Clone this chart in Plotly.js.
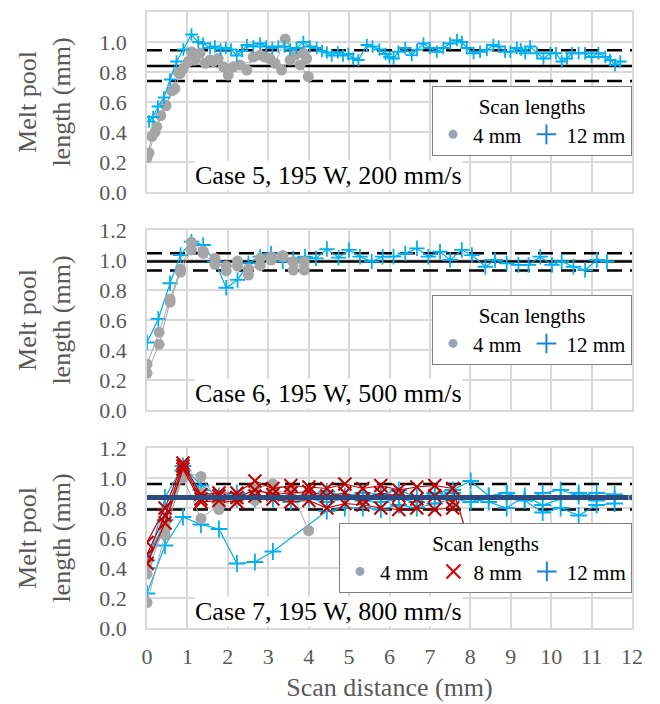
<!DOCTYPE html>
<html><head><meta charset="utf-8">
<script src="https://cdn.plot.ly/plotly-3.0.1.min.js"></script>
</head><body style="margin:0;padding:0"><div id="chart" style="width:660px;height:704px"></div>
<script>
// ---------- Case 5 (195 W, 200 mm/s) ----------
const c5_12_x = [0.05,0.15,0.27,0.42,0.57,0.73,0.9,1.1,1.27,1.39,1.56,1.68,1.82,1.95,2.08,2.22,2.35,2.47,2.63,2.8,2.95,3.1,3.25,3.4,3.54,3.7,3.87,4.03,4.2,4.33,4.45,4.57,4.72,4.85,4.98,5.1,5.23,5.44,5.58,5.75,5.9,6.0,6.1,6.22,6.39,6.55,6.68,6.84,7.0,7.17,7.33,7.5,7.67,7.79,7.91,8.08,8.24,8.41,8.57,8.7,8.86,8.99,9.15,9.25,9.36,9.48,9.65,9.81,9.98,10.12,10.26,10.39,10.51,10.68,10.84,11.0,11.17,11.34,11.46,11.58,11.71];
const c5_12_y = [0.47,0.50,0.57,0.63,0.75,0.87,0.95,1.05,1.0,0.99,0.96,0.97,0.95,0.96,0.95,0.91,0.94,0.98,0.97,0.99,0.97,0.96,0.97,0.97,0.95,0.96,1.0,0.97,0.96,0.94,0.93,0.91,0.93,0.91,0.92,0.89,0.88,0.98,0.97,0.95,0.92,0.90,0.89,0.935,0.96,0.913,0.947,0.99,0.96,0.935,0.96,0.99,1.013,1.0,0.96,0.925,0.935,0.947,0.98,0.97,0.935,0.935,0.96,0.95,0.925,0.97,0.925,0.89,0.925,0.925,0.87,0.89,0.925,0.925,0.925,0.90,0.925,0.90,0.88,0.847,0.87];
const c5_4a_x = [0,0.12,0.24,0.34,0.47,0.61,0.78,0.9,1.02,1.15,1.31,1.44,1.56,1.76,2.01,2.14,2.47,2.63,2.8,3.04,3.33,3.54,3.79,3.99];
const c5_4a_y = [0.23,0.37,0.435,0.51,0.575,0.675,0.795,0.825,0.87,0.88,0.925,0.858,0.88,0.89,0.78,0.835,0.813,0.90,0.913,0.89,0.813,0.88,0.847,0.77];
const c5_4b_x = [0.05,0.2,0.45,0.65,0.69,0.82,1.1,1.19,1.64,1.89,2.3,2.92,3.17,3.42,3.66,3.87,3.95];
const c5_4b_y = [0.26,0.40,0.58,0.68,0.69,0.79,0.935,0.88,0.87,0.835,0.847,0.90,0.858,1.02,0.913,0.925,0.89];
const c5_ref = [0.84, 0.945, 0.74];   // mean, upper, lower

// ---------- Case 6 (195 W, 500 mm/s) ----------
const c6_12_x = [0,0.28,0.57,0.83,1.1,1.39,1.68,1.96,2.24,2.51,2.8,3.07,3.36,3.62,3.91,4.18,4.45,4.74,5.0,5.27,5.56,5.83,6.1,6.39,6.68,6.96,7.25,7.5,7.79,8.04,8.37,8.61,8.9,9.19,9.44,9.73,10.02,10.26,10.55,10.84,11.13,11.38];
const c6_12_y = [0.45,0.607,0.845,1.033,1.122,1.10,0.99,0.815,0.867,0.978,1.022,1.044,0.99,1.011,1.022,1.011,1.073,1.016,1.067,1.022,0.99,1.022,1.022,1.044,1.078,1.022,1.055,1.0,1.067,1.033,0.955,1.0,0.978,0.967,0.967,1.022,0.967,0.99,0.955,0.933,1.0,0.99];
const c6_4_x = [0,0.3,0.57,0.83,1.1,1.39,1.68,1.96,2.24,2.51,2.8,3.07,3.36,3.62,3.89];
const c6_4a_y = [0.305,0.518,0.74,0.94,1.118,1.06,1.011,0.927,0.993,0.90,1.011,1.022,1.022,0.933,0.99];
const c6_4b_y = [0.245,0.438,0.72,0.92,1.067,1.045,0.971,0.96,0.96,0.94,0.962,1.0,1.03,0.99,0.933];
const c6_ref = [0.99, 1.045, 0.93];

// ---------- Case 7 (195 W, 800 mm/s) ----------
const c7_4_x = [0,0.445,0.89,1.335,1.78,2.225,2.67,3.115,3.56,4.0];
const c7_4a_y = [0.17,0.62,1.04,1.01,0.84,0.85,0.93,0.96,0.92,0.65];
const c7_4b_y = [0.36,0.69,1.03,0.90,0.79,0.88,0.85,0.89,0.86,0.88];
const c7_4c_y = [0.43,0.66,1.00,0.73,0.82,0.86,0.90,0.92,0.90,0.89];
const c7_8_x = [0,0.445,0.89,1.335,1.78,2.225,2.67,3.115,3.56,4.005,4.45,4.895,5.34,5.785,6.23,6.675,7.12,7.565,8.0];
const c7_8a_y = [0.57,0.80,1.10,0.89,0.90,0.90,0.98,0.93,0.95,0.94,0.93,0.96,0.93,0.95,0.92,0.94,0.95,0.93,0.55];
const c7_8b_y = [0.49,0.75,1.08,0.86,0.88,0.87,0.92,0.89,0.90,0.91,0.88,0.90,0.86,0.90,0.88,0.86,0.88,0.84];
const c7_8c_y = [0.43,0.70,1.06,0.84,0.85,0.84,0.88,0.86,0.84,0.85,0.80,0.83,0.82,0.80,0.79,0.80,0.79,0.80];
const c7_12a_x = [0,0.445,0.89,1.335,1.78,2.225,2.67,3.115,4.45,4.895,5.34,5.785,6.23,6.675,7.12,7.565,8.01,8.455,8.9,9.345,9.79,10.235,10.68,11.125,11.57];
const c7_12a_y = [0.23,0.55,0.74,0.69,0.66,0.43,0.44,0.51,0.78,0.80,0.80,0.79,0.82,0.80,0.83,0.86,0.84,0.88,0.90,0.85,0.77,0.80,0.75,0.82,0.83];
const c7_12_x = [0,0.445,0.89,1.335,1.78,2.225,2.67,3.115,3.56,4.005,4.45,4.895,5.34,5.785,6.23,6.675,7.12,7.565,8.01,8.455,8.9,9.345,9.79,10.235,10.68,11.125,11.57];
const c7_12b_y = [0.40,0.87,1.08,0.95,0.88,0.90,0.86,0.88,0.87,0.89,0.91,0.88,0.90,0.89,0.92,0.87,0.90,0.92,0.98,0.88,0.90,0.86,0.90,0.92,0.88,0.90,0.89];
const c7_12c_y = [0.45,0.72,1.05,0.92,0.86,0.86,0.88,0.86,0.84,0.86,0.84,0.86,0.85,0.84,0.86,0.84,0.88,0.90,0.86,0.84,0.80,0.88,0.82,0.86,0.90,0.85,0.86];
const c7_ref = [0.87, 0.96, 0.79];

const caseLabels = ['Case 5, 195 W, 200 mm/s','Case 6, 195 W, 500 mm/s','Case 7, 195 W, 800 mm/s'];
const legendLabels = ['4 mm','8 mm','12 mm'];
const xTicks = [0,1,2,3,4,5,6,7,8,9,10,11,12];
const xRange = [0, 12];

const GRAY='#a6a6a6', BLUE='#00b0f0', RED='#c00000';
const FONT='Liberation Serif';

function grayTr(x,y,xa,ya){return {x:x,y:y,xaxis:xa,yaxis:ya,mode:'lines+markers',showlegend:false,hoverinfo:'skip',
  line:{color:GRAY,width:1},marker:{symbol:'circle',size:11,color:GRAY}};}
function blueTr(x,y,xa,ya,sz){return {x:x,y:y,xaxis:xa,yaxis:ya,mode:'lines+markers',showlegend:false,hoverinfo:'skip',
  line:{color:BLUE,width:1.2},marker:{symbol:'cross-thin-open',size:sz,color:BLUE,line:{color:BLUE,width:1.8}}};}
function redTr(x,y,xa,ya){return {x:x,y:y,xaxis:xa,yaxis:ya,mode:'lines+markers',showlegend:false,hoverinfo:'skip',
  line:{color:RED,width:1.2},marker:{symbol:'x-thin-open',size:13,color:RED,line:{color:RED,width:2}}};}
function refTr(ref,xa,ya,meanColor,meanWidth){
  const out=[];
  out.push({x:xRange,y:[ref[1],ref[1]],xaxis:xa,yaxis:ya,mode:'lines',showlegend:false,hoverinfo:'skip',line:{color:'#000',width:2.6,dash:'15px,8px'}});
  out.push({x:xRange,y:[ref[2],ref[2]],xaxis:xa,yaxis:ya,mode:'lines',showlegend:false,hoverinfo:'skip',line:{color:'#000',width:2.6,dash:'15px,8px'}});
  out.push({x:xRange,y:[ref[0],ref[0]],xaxis:xa,yaxis:ya,mode:'lines',showlegend:false,hoverinfo:'skip',line:{color:meanColor,width:meanWidth}});
  return out;
}
function legTr(name,sym,color,size,lg,lw){return {x:[null],y:[null],xaxis:'x',yaxis:'y',mode:'markers',name:name,legend:lg,showlegend:true,
  marker:{symbol:sym,size:size,color:color,line:{color:color,width:lw}}};}

const traces = [];
traces.push(...refTr(c5_ref,'x','y','#000',2.6));
traces.push(grayTr(c5_4a_x,c5_4a_y,'x','y'));
traces.push(grayTr(c5_4b_x,c5_4b_y,'x','y'));
traces.push(blueTr(c5_12_x,c5_12_y,'x','y',9));
traces.push(...refTr(c6_ref,'x2','y2','#000',2.6));
traces.push(blueTr(c6_12_x,c6_12_y,'x2','y2',11));
traces.push(grayTr(c6_4_x,c6_4a_y,'x2','y2'));
traces.push(grayTr(c6_4_x,c6_4b_y,'x2','y2'));
traces.push(...refTr(c7_ref,'x3','y3','#000',2));
traces.push(blueTr(c7_12a_x,c7_12a_y,'x3','y3',12));
traces.push(blueTr(c7_12_x,c7_12b_y,'x3','y3',12));
traces.push(blueTr(c7_12_x,c7_12c_y,'x3','y3',12));
traces.push(grayTr(c7_4_x,c7_4a_y,'x3','y3'));
traces.push(grayTr(c7_4_x,c7_4b_y,'x3','y3'));
traces.push(grayTr(c7_4_x,c7_4c_y,'x3','y3'));
traces.push(redTr(c7_8_x,c7_8a_y,'x3','y3'));
traces.push(redTr(c7_8_x.slice(0,c7_8b_y.length),c7_8b_y,'x3','y3'));
traces.push(redTr(c7_8_x.slice(0,c7_8c_y.length),c7_8c_y,'x3','y3'));
traces.push({x:xRange,y:[c7_ref[0],c7_ref[0]],xaxis:'x3',yaxis:'y3',mode:'lines+markers',showlegend:false,hoverinfo:'skip',
  line:{color:'#2e4b7f',width:5},marker:{size:[0,7],color:'#2e4b7f'}});
const LDOT='#9ea2b8', LBLUE='#1a84d8', LRED='#e00000';
traces.push(legTr(legendLabels[0],'circle',LDOT,9,'legend',0));
traces.push(legTr(legendLabels[2],'cross-thin-open',LBLUE,14,'legend',2));
traces.push(legTr(legendLabels[0],'circle',LDOT,9,'legend2',0));
traces.push(legTr(legendLabels[2],'cross-thin-open',LBLUE,14,'legend2',2));
traces.push(legTr(legendLabels[0],'circle',LDOT,9,'legend3',0));
traces.push(legTr(legendLabels[1],'x-thin-open',LRED,14,'legend3',2));
traces.push(legTr(legendLabels[2],'cross-thin-open',LBLUE,14,'legend3',2));

const GRID='#d9d9d9', TICKC='#595959';
function xax(anchor,showLabels){
  const a={anchor:anchor,range:xRange,tickvals:xTicks,ticktext:xTicks.map(String),showgrid:true,gridcolor:GRID,gridwidth:1.5,
    showline:true,linecolor:GRID,linewidth:1.5,mirror:true,zeroline:false,ticks:'',showticklabels:showLabels,ticklabelstandoff:8,
    tickfont:{family:FONT,size:22,color:TICKC},fixedrange:true};
  if(showLabels){a.title={text:'Scan distance (mm)',font:{family:FONT,size:26,color:TICKC},standoff:10};}
  return a;
}
function yax(dom,anchor){
  return {domain:dom,anchor:anchor,range:[0,1.2],dtick:0.2,tick0:0,tickformat:'.1f',showgrid:true,gridcolor:GRID,gridwidth:1.5,
    showline:true,linecolor:GRID,linewidth:1.5,mirror:true,zeroline:false,ticks:'',ticklabelstandoff:14,
    tickfont:{family:FONT,size:22,color:TICKC},fixedrange:true,
    title:{text:'Melt pool<br>length (mm)',font:{family:FONT,size:26,color:TICKC},standoff:21}};
}
function leg(y){
  return {x:1,xanchor:'right',y:y,yanchor:'top',orientation:'h',bgcolor:'#fff',bordercolor:'#7f7f7f',borderwidth:1,
    font:{family:FONT,size:21,color:'#000'},title:{text:'Scan lengths',side:'top center',font:{family:FONT,size:21,color:'#000'}},
    itemwidth:30,tracegroupgap:0};
}
function ann(i,xa,ya){
  return {text:caseLabels[i],xref:xa,yref:ya,x:4.5,y:0.004,xanchor:'center',yanchor:'bottom',showarrow:false,
    bgcolor:'#fff',borderpad:0,font:{family:FONT,size:26,color:'#000'}};
}

const layout = {
  width:660,height:704,paper_bgcolor:'#fff',plot_bgcolor:'#fff',
  margin:{l:147,r:28,t:12,b:76,pad:0},
  xaxis:xax('y',false), yaxis:yax([0.7078,1],'x'),
  xaxis2:xax('y2',false), yaxis2:yax([0.3539,0.6461],'x2'),
  xaxis3:xax('y3',true), yaxis3:yax([0,0.2922],'x3'),
  legend:leg(0.880), legend2:leg(0.5406), legend3:leg(0.1705),
  annotations:[ann(0,'x','y'),ann(1,'x2','y2'),ann(2,'x3','y3')],
  showlegend:true
};
Plotly.newPlot('chart',traces,layout,{displayModeBar:false});
</script></body></html>
